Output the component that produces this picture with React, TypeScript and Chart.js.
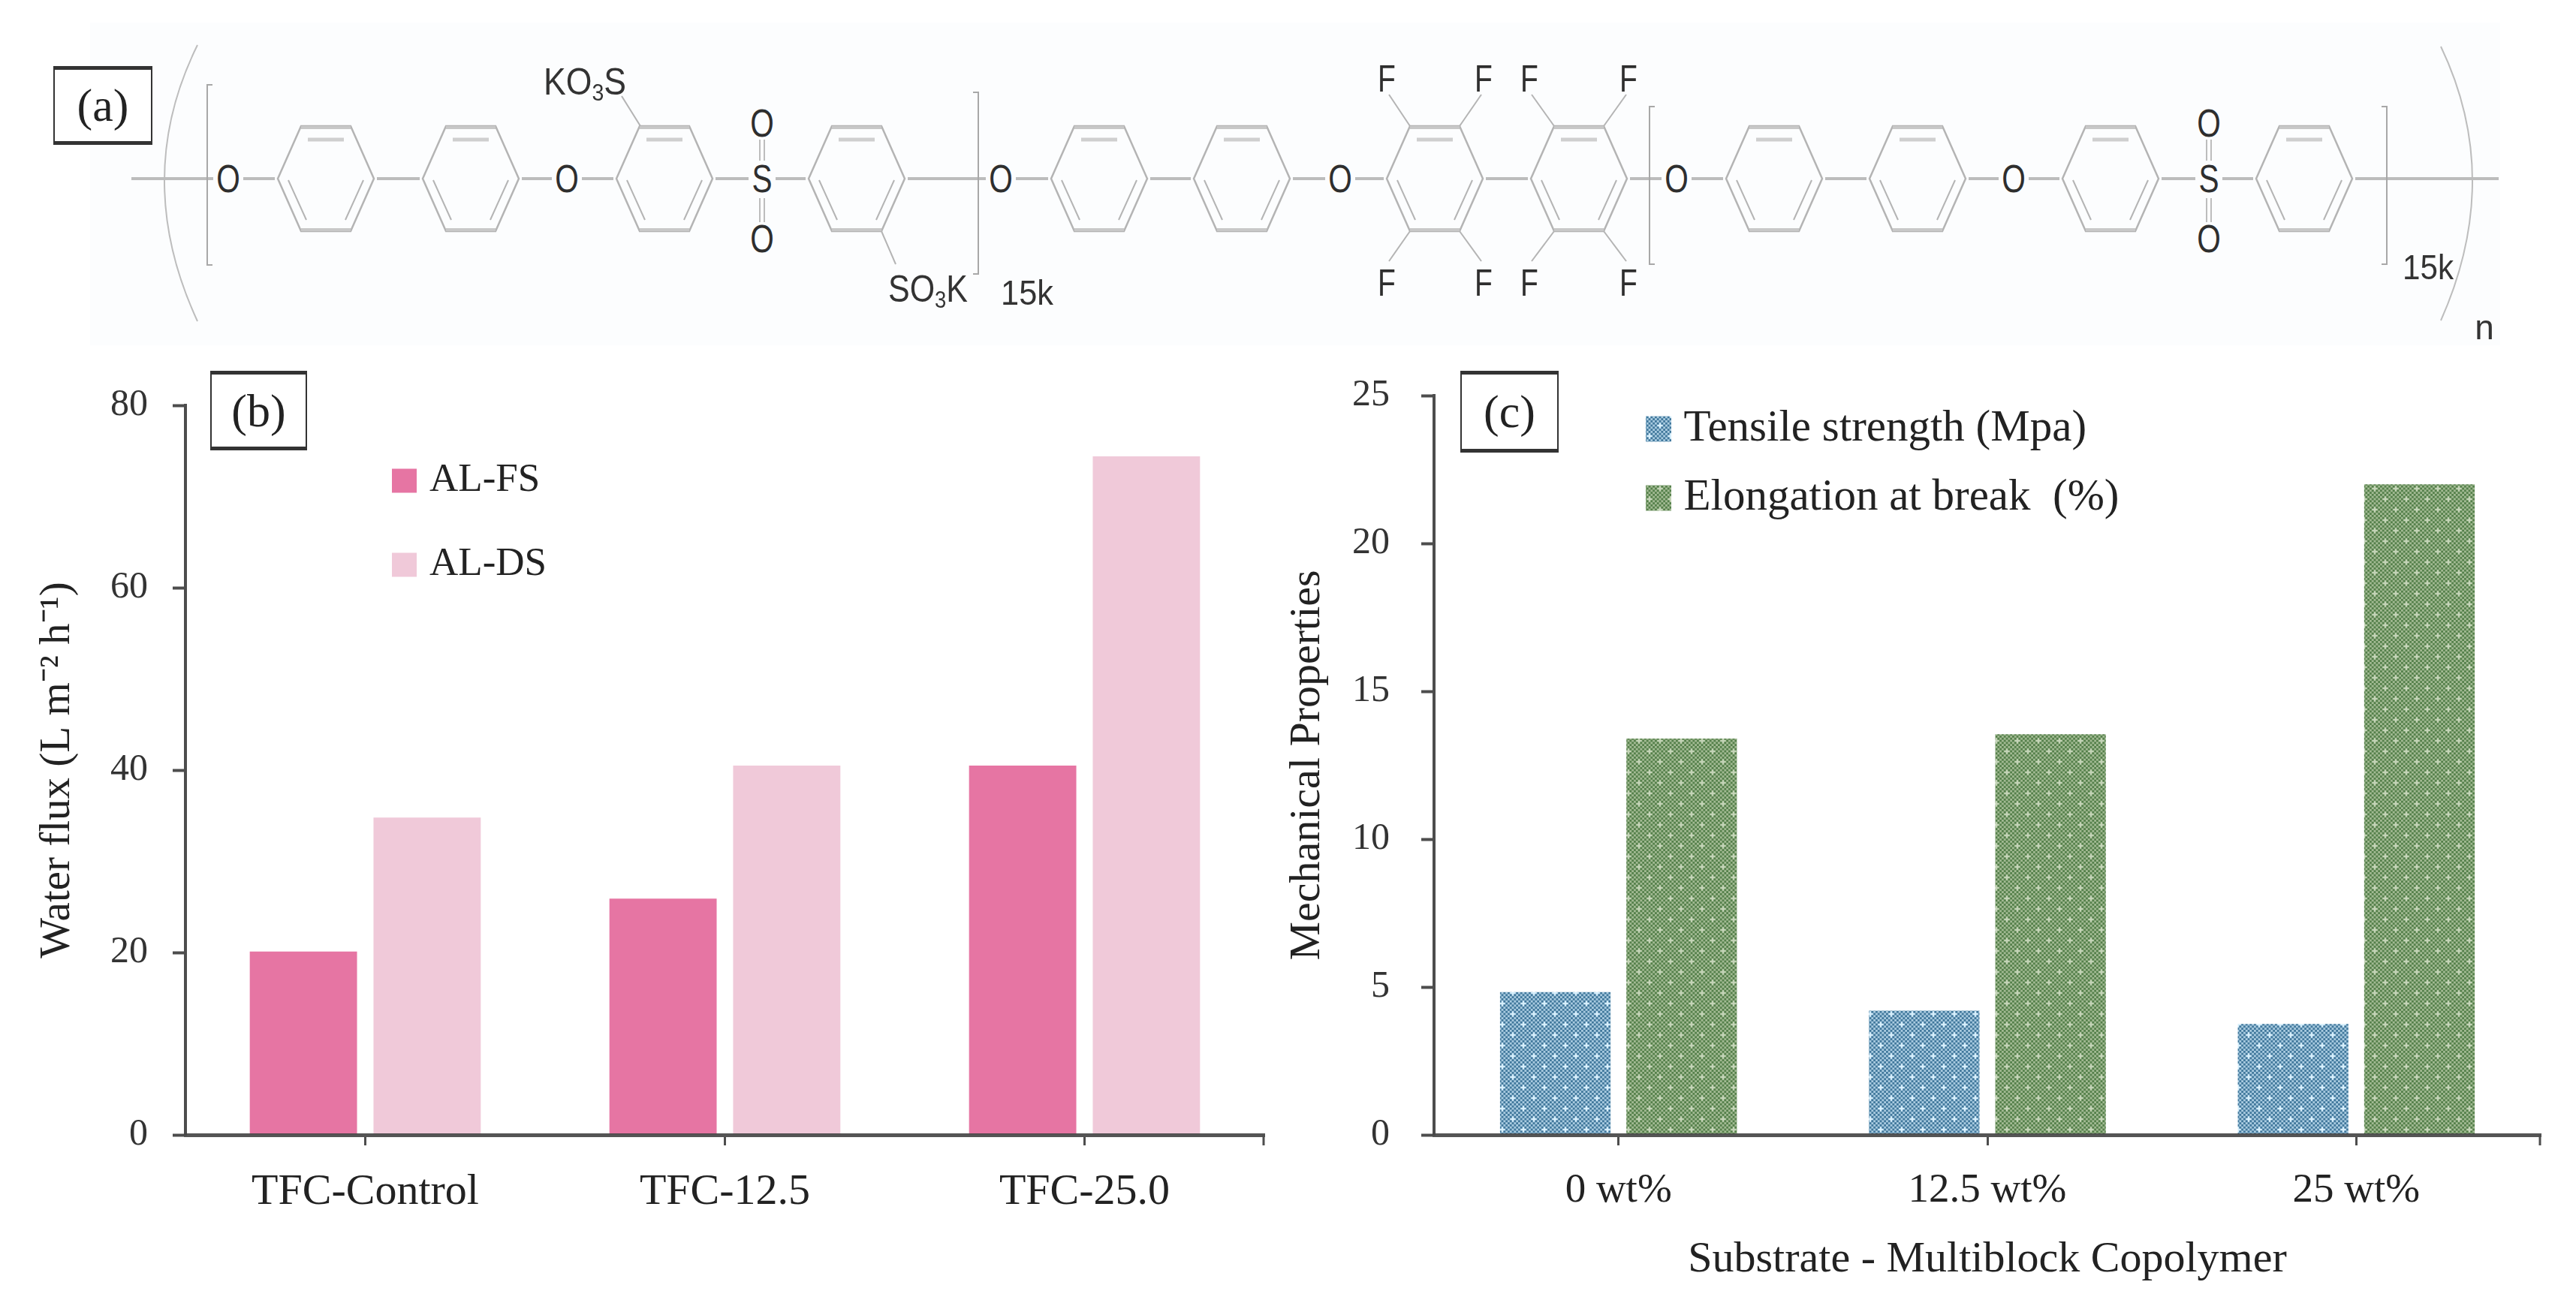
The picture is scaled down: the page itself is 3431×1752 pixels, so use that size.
import React, { useEffect, useRef } from "react";
import { Chart, registerables } from "chart.js";

Chart.register(...registerables);

// ---- data ----
const fluxCategories = ["TFC-Control", "TFC-12.5", "TFC-25.0"];
const fluxFS = [20.1, 25.9, 40.5];
const fluxDS = [34.8, 40.5, 74.4];
const fluxTicks = [0, 20, 40, 60, 80];

const mechCategories = ["0 wt%", "12.5 wt%", "25 wt%"];
const tensile = [4.83, 4.2, 3.75];
const elongation = [13.4, 13.55, 22.0];
const mechTicks = [0, 5, 10, 15, 20, 25];

// ---- chemical structure layout (panel a) ----
const ringXs = [434, 627, 885, 1141, 1464, 1654, 1911, 2103, 2363, 2554, 2811, 3069];
const oxygenXs = [304, 755, 1333, 1785, 2233, 2682];
const sulfoneXs = [1015, 2942];
const fluorineXs = [1847, 1976, 2037, 2169];
const bracketSets = [
  { x: 276, y1: 113, y2: 353, dir: 1 },
  { x: 1303, y1: 123, y2: 365, dir: -1 },
  { x: 2197, y1: 142, y2: 352, dir: 1 },
  { x: 3179, y1: 142, y2: 352, dir: -1 },
];
const fontSerif = "'Liberation Serif', serif";
const fontSans = "'Liberation Sans', Arial, sans-serif";
const AXIS = "#4d4d4d";
const TEXT = "#222222";

function makePattern(dark: string, light: string, cross: string) {
  const tile = document.createElement("canvas");
  tile.width = 28;
  tile.height = 28;
  const c = tile.getContext("2d")!;
  c.fillStyle = light;
  c.fillRect(0, 0, 28, 28);
  c.fillStyle = dark;
  const s = 2.8;
  for (let i = 0; i < 10; i++) {
    for (let j = 0; j < 10; j++) {
      if ((i + j) % 2 === 0) c.fillRect(i * s, j * s, s, s);
    }
  }
  c.fillStyle = cross;
  [[7, 7], [21, 21]].forEach(([x, y]) => {
    c.fillRect(x - 3.5, y - 1, 7, 2);
    c.fillRect(x - 1, y - 3.5, 2, 7);
    c.beginPath();
    c.arc(x, y, 1.9, 0, Math.PI * 2);
    c.fill();
  });
  return c.createPattern(tile, "repeat")!;
}

function baseOptions(cfg: any) {
  const placeLegend = {
    id: "placeLegend",
    afterLayout(chart: any) {
      const l = chart.legend;
      l.left = cfg.legendX;
      l.right = cfg.legendX + 900;
      l.top = cfg.legendY;
      l.bottom = cfg.legendY + 600;
    },
  };
  const endTick = {
    id: "endTick",
    afterDraw(chart: any) {
      const { ctx, chartArea } = chart;
      ctx.save();
      ctx.strokeStyle = AXIS;
      ctx.lineWidth = 3;
      ctx.beginPath();
      ctx.moveTo(chartArea.right - 1, chartArea.bottom);
      ctx.lineTo(chartArea.right - 1, chartArea.bottom + cfg.xTick);
      ctx.stroke();
      ctx.restore();
    },
  };
  const options: any = {
    responsive: false,
    animation: false,
    layout: { padding: { top: cfg.top, right: cfg.right, left: 0, bottom: 0 } },
    plugins: {
      title: { display: false },
      tooltip: { enabled: false },
      legend: {
        position: "chartArea",
        align: "start",
        labels: {
          boxWidth: cfg.swatchW,
          boxHeight: cfg.swatchH,
          padding: cfg.legendGap,
          color: TEXT,
          font: { family: fontSerif, size: cfg.legendFont },
          // A same-coloured outline completes the swatch, which sets the swatch-to-text gap.
          generateLabels(chart: any) {
            const items = Chart.defaults.plugins.legend.labels.generateLabels(chart);
            return items.map((it: any) => ({ ...it, strokeStyle: it.fillStyle, lineWidth: cfg.swatchLine }));
          },
        },
      },
    },
    scales: {
      x: {
        afterFit: (s: any) => { s.height = cfg.xHeight; },
        grid: { offset: false, drawOnChartArea: false, tickLength: cfg.xTick, tickWidth: 3, tickColor: AXIS },
        border: { color: "rgba(70,70,70,0.92)", width: 5, z: 2 },
        ticks: { color: TEXT, padding: cfg.xPad, font: { family: fontSerif, size: cfg.xFont }, maxRotation: 0 },
        title: cfg.xTitle
          ? { display: true, text: cfg.xTitle, color: TEXT, font: { family: fontSerif, size: cfg.titleFont }, padding: { top: 0, bottom: 38 } }
          : { display: false },
      },
      y: {
        min: 0,
        max: cfg.max,
        afterFit: (s: any) => { s.width = cfg.yWidth; },
        afterBuildTicks: (s: any) => { s.ticks = cfg.ticks.map((v: number) => ({ value: v })); },
        grid: { drawOnChartArea: false, tickLength: 17, tickWidth: 4, tickColor: AXIS },
        border: { color: AXIS, width: 4 },
        ticks: { color: "#333333", padding: cfg.yPad, font: { family: fontSerif, size: 50 } },
        title: { display: true, text: cfg.yTitle, color: TEXT, font: { family: fontSerif, size: cfg.yTitleFont }, padding: { top: cfg.yTitlePad, bottom: 0 } },
      },
    },
  };
  return { options, plugins: [placeLegend, endTick] };
}

function Structure() {
  const grey = "#b4b4b4";
  const line = (x1: number, y1: number, x2: number, y2: number, w = 2.5, c = grey, k?: string) => (
    <line key={k ?? `${x1}-${y1}-${x2}-${y2}-${w}`} x1={x1} y1={y1} x2={x2} y2={y2} stroke={c} strokeWidth={w} />
  );
  const atom = (t: string, x: number, y: number, size = 52) => (
    <text key={`${t}-${x}-${y}`} transform={`translate(${x},${y}) scale(0.78,1)`} textAnchor="middle" dominantBaseline="central"
      fontFamily={fontSans} fontSize={size} fill="#2e2e2e">{t}</text>
  );
  const midY = 238;
  return (
    <svg width={3431} height={480} style={{ position: "absolute", left: 0, top: 0, filter: "blur(0.7px)" }}>
      <rect x={120} y={30} width={3210} height={430} fill="#fcfdfe" />
      <path d="M263 60 Q175 238 263 428" fill="none" stroke="#bdbdbd" strokeWidth={2} />
      <path d="M3251 62 Q3335 238 3251 427" fill="none" stroke="#bdbdbd" strokeWidth={2} />
      {line(175, midY, 3328, midY, 4, "#bcbcbc", "backbone")}
      {ringXs.map((cx) => (
        <g key={cx}>
          <rect x={cx - 68} y={150} width={136} height={176} fill="#fcfdfe" />
          <polygon points={`${cx - 64},${midY} ${cx - 33},168 ${cx + 33},168 ${cx + 64},${midY} ${cx + 33},308 ${cx - 33},308`} fill="#fcfdfe" stroke={grey} strokeWidth={2.5} />
          {line(cx - 33, 170, cx + 33, 170, 4, "#c8c8c8")}
          {line(cx - 33, 306, cx + 33, 306, 4, "#c8c8c8")}
          {line(cx - 24, 186, cx + 24, 186, 5, "#cfcfcf")}
          {line(cx - 50, 240, cx - 26, 293, 2)}
          {line(cx + 50, 240, cx + 26, 293, 2)}
        </g>
      ))}
      {bracketSets.map((b) => (
        <g key={b.x}>
          <path d={`M${b.x + 7 * b.dir} ${b.y1} H${b.x} V${b.y2} H${b.x + 7 * b.dir}`} fill="none" stroke="#a8a8a8" strokeWidth={2} />
        </g>
      ))}
      {oxygenXs.map((x) => (
        <g key={x}>
          <rect x={x - 20} y={212} width={40} height={52} fill="#fcfdfe" />
          {atom("O", x, midY)}
        </g>
      ))}
      {sulfoneXs.map((x) => (
        <g key={x}>
          <rect x={x - 18} y={212} width={36} height={52} fill="#fcfdfe" />
          {line(x - 3, 186, x - 3, 214, 2, "#bdbdbd")}
          {line(x + 3, 186, x + 3, 214, 2, "#bdbdbd")}
          {line(x - 3, 264, x - 3, 296, 2, "#bdbdbd")}
          {line(x + 3, 264, x + 3, 296, 2, "#bdbdbd")}
          {atom("S", x, midY)}
          {atom("O", x, 164)}
          {atom("O", x, 318)}
        </g>
      ))}
      {line(828, 128, 853, 168, 2)}
      {line(1174, 308, 1193, 352, 2)}
      <text x={724} y={126} fontFamily={fontSans} fontSize={50} fill="#333" textLength={110} lengthAdjust="spacingAndGlyphs">
        KO<tspan fontSize={32} dy={8}>3</tspan><tspan dy={-8}>S</tspan>
      </text>
      <text x={1183} y={402} fontFamily={fontSans} fontSize={50} fill="#333" textLength={106} lengthAdjust="spacingAndGlyphs">
        SO<tspan fontSize={32} dy={8}>3</tspan><tspan dy={-8}>K</tspan>
      </text>
      <text x={1333} y={406} fontFamily={fontSans} fontSize={46} fill="#333" textLength={70} lengthAdjust="spacingAndGlyphs">15k</text>
      <text x={3200} y={372} fontFamily={fontSans} fontSize={46} fill="#333" textLength={68} lengthAdjust="spacingAndGlyphs">15k</text>
      <text x={3309} y={452} textAnchor="middle" fontFamily={fontSans} fontSize={46} fill="#333">n</text>
      {fluorineXs.map((x, i) => {
        const cx = i < 2 ? 1911 : 2103;
        const side = i % 2 === 0 ? -33 : 33;
        return (
          <g key={x}>
            {line(cx + side, 168, x + (side < 0 ? 3 : -3), 126, 2)}
            {line(cx + side, 308, x + (side < 0 ? -3 : 3) * -1, 348, 2)}
            {atom("F", x, 105, 50)}
            {atom("F", x, 377, 50)}
          </g>
        );
      })}
    </svg>
  );
}

function PanelTag({ label, x, y, w, h }: { label: string; x: number; y: number; w: number; h: number }) {
  return (
    <div style={{
      position: "absolute", left: x, top: y, width: w, height: h, boxSizing: "border-box",
      borderLeft: "2px solid #333", borderRight: "2px solid #333", borderTop: "5px solid #333", borderBottom: "5px solid #333",
      display: "flex", alignItems: "center", justifyContent: "center",
      fontFamily: fontSerif, fontSize: 62, color: TEXT, background: "#fff",
    }}>{label}</div>
  );
}

export default function App() {
  const fluxRef = useRef<HTMLCanvasElement>(null);
  const mechRef = useRef<HTMLCanvasElement>(null);

  useEffect(() => {
    const b = baseOptions({
      top: 540, right: 31, xHeight: 240, yWidth: 247, max: 80, ticks: fluxTicks,
      xFont: 58, titleFont: 59, yTitleFont: 57, xTick: 14, xPad: 28, yPad: 33, yTitlePad: 43,
      yTitle: "Water flux (L m⁻² h⁻¹)",
      legendX: 472.5, legendY: 555, legendGap: 59, legendFont: 53, swatchW: 14, swatchH: 13, swatchLine: 19,
    });
    const fluxChart = new Chart(fluxRef.current!, {
      type: "bar",
      data: {
        labels: fluxCategories,
        datasets: [
          { label: "AL-FS", data: fluxFS, backgroundColor: "#e675a3", borderWidth: 0, categoryPercentage: 0.688, barPercentage: 0.867 },
          { label: "AL-DS", data: fluxDS, backgroundColor: "#f0c9d9", borderWidth: 0, categoryPercentage: 0.688, barPercentage: 0.867 },
        ],
      },
      options: b.options,
      plugins: b.plugins,
    });

    const c = baseOptions({
      top: 527, right: 47, xHeight: 240, yWidth: 210, max: 25, ticks: mechTicks,
      xFont: 55, titleFont: 58, yTitleFont: 58, xTick: 14, xPad: 28, yPad: 42, yTitlePad: 7,
      xTitle: "Substrate - Multiblock Copolymer",
      yTitle: "Mechanical Properties",
      legendX: 472, legendY: 509, legendGap: 33, legendFont: 59, swatchW: 8, swatchH: 8, swatchLine: 26,
    });
    const mechChart = new Chart(mechRef.current!, {
      type: "bar",
      data: {
        labels: mechCategories,
        datasets: [
          { label: "Tensile strength (Mpa)", data: tensile, backgroundColor: makePattern("#41789c", "#a9cbe0", "#d5eefb"), borderWidth: 0, categoryPercentage: 0.685, barPercentage: 0.875 },
          { label: "Elongation at break  (%)", data: elongation, backgroundColor: makePattern("#55804b", "#a2ba93", "#c3d3b6"), borderWidth: 0, categoryPercentage: 0.685, barPercentage: 0.875 },
        ],
      },
      options: c.options,
      plugins: c.plugins,
    });
    return () => {
      fluxChart.destroy();
      mechChart.destroy();
    };
  }, []);

  return (
    <div style={{ position: "absolute", left: 0, top: 0, width: 3431, height: 1752, background: "#fff", overflow: "hidden" }}>
      <canvas ref={fluxRef} width={1715} height={1752} style={{ position: "absolute", left: 0, top: 0 }} />
      <canvas ref={mechRef} width={1731} height={1752} style={{ position: "absolute", left: 1700, top: 0 }} />
      <Structure />
      <PanelTag label="(a)" x={71} y={88} w={132} h={105} />
      <PanelTag label="(b)" x={280} y={494} w={129} h={106} />
      <PanelTag label="(c)" x={1945} y={494} w={131} h={109} />
    </div>
  );
}
